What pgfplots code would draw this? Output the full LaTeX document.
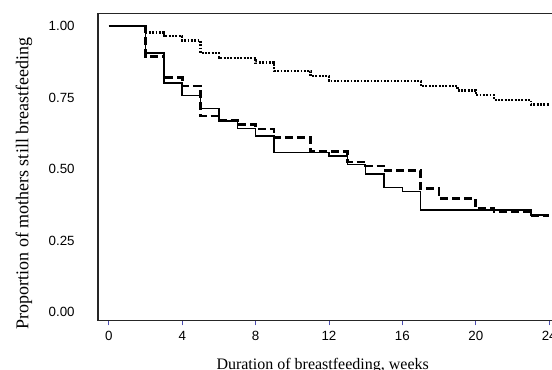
\documentclass[border=0pt]{standalone}
\usepackage{fontspec}
\setmainfont{Liberation Serif}
\setsansfont{Liberation Sans}
\usepackage{pgfplots}
\pgfplotsset{compat=1.18}
\begin{document}
\begin{tikzpicture}
\begin{axis}[
  at={(73.5pt,36.3pt)}, anchor=south west,
  scale only axis,
  width=342.5pt, height=230pt,
  xmin=-0.59, xmax=24.3,
  ymin=-0.03, ymax=1.042,
  xtick={0,4,8,12,16,20,24},
  ytick={0,0.25,0.5,0.75,1},
  yticklabels={0.00,0.25,0.50,0.75,1.00},
  xtick pos=bottom,
  axis line style={black!85, line width=0.8pt},
  tick align=outside,
  major tick length=3.5pt,
  xtick style={draw=blue!40!gray, line width=0.6pt},
  ytick style={draw=none},
  /pgf/number format/assume math mode=true,
  tick label style={font=\sffamily\fontsize{10}{12}\selectfont},
  xticklabel style={yshift=-1pt},
  yticklabel style={xshift=-10.5pt},
  xlabel={Duration of breastfeeding, weeks},
  ylabel={Proportion of mothers still breastfeeding},
  xlabel style={at={(axis description cs:0.492,-0.148)}, anchor=center, font=\fontsize{12}{14}\selectfont},
  ylabel style={at={(axis description cs:-0.162,0.447)}, anchor=center, font=\fontsize{13.5}{15}\selectfont},
]
\addplot[const plot, black, line width=1.1pt] coordinates {
(0,1) (2,0.905) (3,0.80) (4,0.756) (5,0.712) (6,0.668) (7,0.642) (8,0.616) (9,0.558) (12,0.545) (13,0.516) (14,0.483) (15,0.436) (16,0.421) (17,0.357) (23,0.339) (24,0.339)
};
\addplot[const plot, black, line width=2pt, dash pattern=on 6pt off 3pt] coordinates {
(0,1) (2,0.893) (3,0.819) (4,0.79) (5,0.685) (6,0.671) (7,0.656) (8,0.64) (9,0.609) (11,0.56) (13,0.525) (14,0.51) (15,0.494) (17,0.432) (18,0.397) (20,0.362) (21,0.35) (23,0.336) (24,0.336)
};
\addplot[const plot, black, line width=1.8pt, dash pattern=on 1.4pt off 1.1pt] coordinates {
(0,1) (2,0.977) (3,0.965) (4,0.949) (5,0.905) (6,0.889) (8,0.872) (9,0.843) (11,0.825) (12,0.808) (17,0.79) (19,0.775) (20,0.758) (21,0.741) (23,0.725) (24,0.725)
};
\end{axis}
\pgfresetboundingbox
\useasboundingbox (0,0) rectangle (414pt,276.75pt);
\end{tikzpicture}
\end{document}
